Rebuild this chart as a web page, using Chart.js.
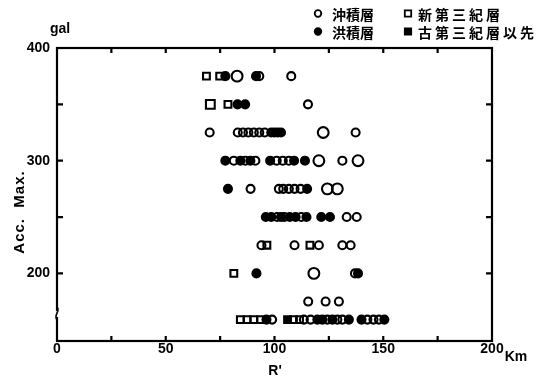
<!DOCTYPE html>
<html>
<head>
<meta charset="utf-8">
<script src="https://cdn.jsdelivr.net/npm/chart.js@4.4.1/dist/chart.umd.min.js"></script>
<style>
  html, body { margin: 0; padding: 0; background: #fff; }
  #wrap { width: 550px; height: 380px; }
</style>
</head>
<body>
<div id="wrap"><canvas id="c" width="550" height="380"></canvas></div>
<script>
// Epicentral distance R' (km) and peak acceleration (gal), grouped by site geology.
const alluvium = [
  [93, 375], [107.7, 375],
  [115.4, 350],
  [70.2, 325], [83.1, 325], [85.5, 325], [88, 325], [90.5, 325], [93, 325], [95.5, 325], [137.3, 325],
  [81.3, 300], [86.6, 300], [91.2, 300], [101, 300], [103.8, 300], [106.6, 300], [131.2, 300],
  [89, 275], [102, 275], [104, 275], [106.6, 275], [109.2, 275], [112, 275],
  [101.2, 250], [104.5, 250], [112.3, 250], [133.2, 250], [137.8, 250],
  [94, 225], [109.2, 225], [120.4, 225], [131.2, 225], [135, 225],
  [137, 200],
  [115.5, 175], [123.5, 175], [129.6, 175],
  [98.9, 159], [113.5, 159], [116.6, 159], [124.3, 159], [128.9, 159], [131.2, 159], [142.7, 159], [145.5, 159], [148, 159]
];
// alluvium sites plotted with the larger ring
const alluviumLarge = [
  [82.8, 375], [122.4, 325], [120.4, 300], [138.4, 300], [124.3, 275], [128.9, 275], [118.1, 200]
];
const neogene = [
  [68.7, 375], [74.8, 375],
  [78.6, 350],
  [96.5, 225], [116.3, 225],
  [81.3, 200],
  [84.3, 159], [87.4, 159], [90.5, 159], [93.6, 159], [108.7, 159], [111.5, 159]
];
const neogeneLarge = [
  [70.5, 350]
];
const diluvium = [
  [77.4, 375], [91.5, 375],
  [83, 350], [86.5, 350],
  [98.5, 325], [100, 325], [101.5, 325], [103, 325],
  [77.4, 300], [84.3, 300], [88.9, 300], [98, 300], [109, 300], [114, 300],
  [78.6, 275], [115, 275],
  [96, 250], [98.5, 250], [103, 250], [107, 250], [109.7, 250], [114.7, 250], [121.5, 250], [125.5, 250],
  [91.7, 200], [138.4, 200],
  [96.3, 159], [119.7, 159], [122, 159], [126.6, 159], [134.2, 159], [140, 159], [150.5, 159]
];
const paleogene = [
  [106, 159]
];

const seriesLabels = ['沖積層', '新第三紀層', '洪積層', '古第三紀層以先'];
const xTickLabels = [0, 50, 100, 150, 200];
const yTickLabels = [200, 300, 400];

const toXY = arr => arr.map(p => ({ x: p[0], y: p[1] }));
const FONT = 'Liberation Sans';
const NONE = 'rgba(0,0,0,0)';

function marks(label, data, style, radius, filled, inLegend) {
  return {
    label: label,
    data: toXY(data),
    showLine: false,
    pointStyle: style,
    pointRadius: radius,
    pointHoverRadius: radius,
    pointBorderWidth: 2.1,
    pointBorderColor: '#000',
    pointBackgroundColor: filled ? '#000' : NONE,
    borderColor: '#000',
    backgroundColor: filled ? '#000' : NONE,
    filled: filled,
    inLegend: inLegend
  };
}

// frame, inward tick marks and the broken-axis sign
const framePlugin = {
  id: 'frame',
  beforeDatasetsDraw(chart) {
    const { ctx, chartArea: a } = chart;
    const xs = chart.scales.x, ys = chart.scales.y;
    ctx.save();
    ctx.strokeStyle = '#000';
    ctx.lineWidth = 2.2;
    ctx.strokeRect(a.left, a.top, a.right - a.left, a.bottom - a.top);
    ctx.beginPath();
    xs.ticks.forEach(t => {
      if (t.value <= xs.min || t.value >= xs.max) return;
      const px = xs.getPixelForValue(t.value);
      ctx.moveTo(px, a.bottom); ctx.lineTo(px, a.bottom - 5);
      ctx.moveTo(px, a.top); ctx.lineTo(px, a.top + 5);
    });
    ys.ticks.forEach(t => {
      if (t.value % 50 !== 0 || t.value <= 150 || t.value >= ys.max) return;
      const py = ys.getPixelForValue(t.value);
      ctx.moveTo(a.left, py); ctx.lineTo(a.left + 6, py);
      ctx.moveTo(a.right, py); ctx.lineTo(a.right - 6, py);
    });
    ctx.stroke();
    // axis break on the acceleration axis
    const by = ys.getPixelForValue(164);
    ctx.fillStyle = '#fff';
    ctx.fillRect(a.left - 2, by - 3, 4, 6);
    ctx.lineWidth = 1.6;
    ctx.beginPath();
    ctx.moveTo(a.left, by - 7);
    ctx.bezierCurveTo(a.left + 4, by - 3, a.left - 4, by + 1, a.left, by + 6);
    ctx.stroke();
    ctx.restore();
  }
};

// two-column legend and the unit / axis captions
const captionPlugin = {
  id: 'captions',
  afterDraw(chart, args, opts) {
    const ctx = chart.ctx;
    ctx.save();
    ctx.fillStyle = '#000';
    ctx.strokeStyle = '#000';
    const items = chart.data.datasets.filter(d => d.inLegend);
    items.forEach((ds, i) => {
      const col = i % 2, row = Math.floor(i / 2);
      const mx = opts.markerX[col], tx = opts.textX[col], y = opts.rowY[row];
      ctx.lineWidth = 1.8;
      ctx.beginPath();
      if (ds.pointStyle === 'rect') {
        ctx.rect(mx - 3.2, y - 3.2, 6.4, 6.4);
      } else {
        ctx.arc(mx, y, 3.3, 0, Math.PI * 2);
      }
      if (ds.filled) ctx.fill();
      ctx.stroke();
      ctx.font = opts.legendFont;
      ctx.letterSpacing = opts.spacing[col] + 'px';
      ctx.textAlign = 'left';
      ctx.textBaseline = 'middle';
      ctx.fillText(ds.label, tx, y + 1);
    });
    ctx.letterSpacing = '0px';
    ctx.font = 'bold 14px "' + FONT + '"';
    ctx.textAlign = 'center';
    ctx.textBaseline = 'middle';
    ctx.fillText('gal', 60, 29);
    ctx.fillText('Km', 516, 357);
    ctx.fillText("R'", 275, 371);
    ctx.translate(20, 212);
    ctx.rotate(-Math.PI / 2);
    ctx.letterSpacing = '1px';
    ctx.font = 'bold 15px "' + FONT + '"';
    ctx.fillText('Acc.  Max.', 0, 0);
    ctx.restore();
  }
};

new Chart(document.getElementById('c'), {
  type: 'scatter',
  data: {
    datasets: [
      marks(seriesLabels[0], alluvium, 'circle', 4, false, true),
      marks(seriesLabels[1], neogene, 'rect', 4.8, false, true),
      marks(seriesLabels[2], diluvium, 'circle', 4, true, true),
      marks(seriesLabels[3], paleogene, 'rect', 4.8, true, true),
      marks(seriesLabels[0], alluviumLarge, 'circle', 5.4, false, false),
      marks(seriesLabels[1], neogeneLarge, 'rect', 6.2, false, false)
    ]
  },
  options: {
    responsive: false,
    animation: false,
    events: [],
    layout: { padding: { top: 48, right: 58, left: 0, bottom: 0 } },
    plugins: {
      legend: { display: false },
      tooltip: { enabled: false },
      captions: {
        markerX: [318, 408],
        textX: [332, 418],
        rowY: [13.5, 31.5],
        spacing: [0, 3],
        legendFont: 'bold 14px "Noto Sans CJK JP"'
      }
    },
    scales: {
      x: {
        type: 'linear',
        min: 0, max: 200,
        grid: { display: false, drawTicks: false },
        border: { display: false },
        ticks: {
          stepSize: 25,
          autoSkip: false,
          maxRotation: 0,
          padding: 0,
          color: '#000',
          font: { family: FONT, size: 14, weight: 'bold' },
          callback: v => xTickLabels.includes(v) ? String(v) : ''
        },
        afterFit: s => { s.height = 39; }
      },
      y: {
        type: 'linear',
        min: 140, max: 400,
        grid: { display: false, drawTicks: false },
        border: { display: false },
        ticks: {
          stepSize: 50,
          autoSkip: false,
          padding: 7,
          color: '#000',
          font: { family: FONT, size: 14, weight: 'bold' },
          callback: v => yTickLabels.includes(v) ? String(v) : ''
        },
        afterFit: s => { s.width = 57; }
      }
    }
  },
  plugins: [framePlugin, captionPlugin]
});
</script>
</body>
</html>
